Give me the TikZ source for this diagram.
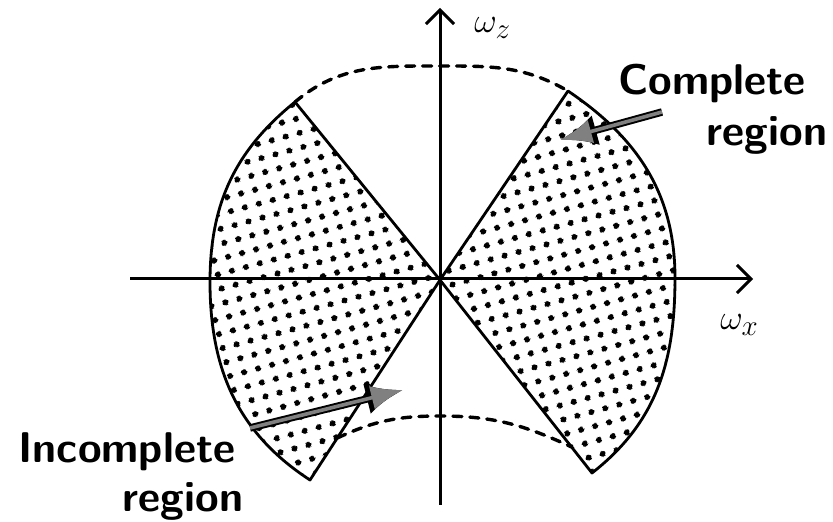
\documentclass[tikz,border=0pt]{standalone}
\usetikzlibrary{arrows.meta,patterns.meta,calc}
\tikzdeclarepattern{
  name=bigdots,
  type=uncolored,
  bottom left={(0pt,0pt)},
  top right={(14pt,14pt)},
  tile size={(14pt,14pt)},
  tile transformation={rotate=15},
  code={\fill (7pt,7pt) circle (3.2pt);}
}
\tikzset{
  axisline/.style={line width=3pt, -{Straight Barb[length=14pt,width=28pt]}},
  region/.style={line width=2.8pt, pattern=bigdots, pattern color=black, line join=round},
  dashcurve/.style={line width=3.4pt, dash pattern=on 9pt off 8pt, line cap=round},
  callout/.style={line width=3.6pt, draw=black!50, -{Latex[length=32pt,width=24pt,fill=black!50]},
    preaction={draw=black, line width=7.5pt, -{Latex[length=37pt,width=31pt]}}},
  labeltext/.style={font=\fontsize{43}{48}\selectfont\sffamily\bfseries, inner sep=0pt},
  axislabel/.style={font=\Huge, scale=1.4, transform shape, inner sep=0pt, anchor=base west}
}
\begin{document}
\begin{tikzpicture}[x=1pt,y=1pt]
\useasboundingbox (0,0) rectangle (833,522);
% key points
\coordinate (O) at (440,242);
\coordinate (TL) at (295,420);
\coordinate (L) at (210,240);
\coordinate (BL) at (310,42);
\coordinate (TR) at (568,431);
\coordinate (R) at (675,244);
\coordinate (BR) at (592,49);
\coordinate (xl) at (130,243);
\coordinate (xr) at (753,243);
\coordinate (zb) at (440,17);
\coordinate (zt) at (440,514);
\coordinate (topc) at (440,456);
\coordinate (botc) at (440,106);
\coordinate (bl) at ($(O)!0.79!(BL)$);
\coordinate (br) at ($(O)!0.865!(BR)$);
% regions
\draw[region] (O) -- (TL) to[out=219,in=90] (L) to[out=270,in=147] (BL) -- cycle;
\draw[region] (O) -- (TR) to[out=-34,in=90] (R) to[out=270,in=38] (BR) -- cycle;
% dashed curves
\draw[dashcurve] (TL) to[out=40,in=180] (topc) to[out=0,in=150] (TR);
\draw[dashcurve] (bl) to[out=25,in=180] (botc) to[out=0,in=155] (br);
% axes
\draw[axisline] (xl) -- (xr);
\draw[axisline] (zb) -- (zt);
\node[axislabel] (wz) at (474,489) {$\omega_z$};
\node[axislabel] (wx) at (720,192) {$\omega_x$};
% labels
\node[labeltext, anchor=base] (comp) at (712,427) {Complete};
\node[labeltext, anchor=base] (reg1) at (767,376) {region};
\node[labeltext, anchor=base] (incomp) at (127,59) {Incomplete};
\node[labeltext, anchor=base] (reg2) at (183,10) {region};
\coordinate (ca) at (662,410);
\coordinate (ct) at (560,382);
\coordinate (ia) at (250,94);
\coordinate (it) at (403,132);
\draw[callout] (ca) -- (ct);
\draw[callout] (ia) -- (it);
\end{tikzpicture}
\end{document}
